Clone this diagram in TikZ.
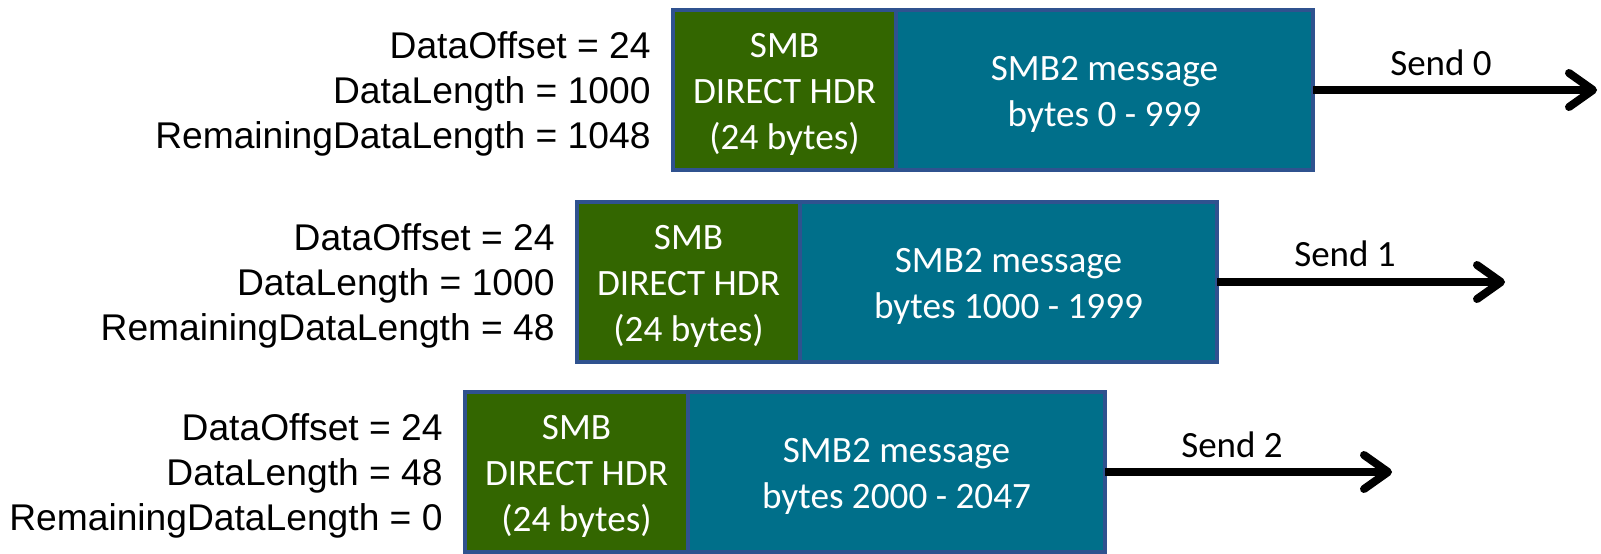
\documentclass[tikz,border=0pt]{standalone}
\usepackage{fontspec}
\setmainfont{Carlito}
\newfontfamily\arialfont{Liberation Sans}
\usetikzlibrary{arrows.meta}
\definecolor{hdrgreen}{RGB}{51,102,0}
\definecolor{msgteal}{RGB}{0,111,138}
\definecolor{edgeblue}{RGB}{47,82,143}
% invisible strut that lowers the first line of a centred block
\newcommand{\topstrut}[1]{\rule{0pt}{#1}}
\begin{document}
\begin{tikzpicture}[x=0.5pt,y=-0.5pt,
  seg/.style={draw=edgeblue, line width=1.75pt, rectangle, minimum height=80pt,
    inner sep=0pt, outer sep=0pt, text=white, align=center,
    font=\fontsize{18.6}{23}\selectfont},
  hdr/.style={seg, fill=hdrgreen, minimum width=111.5pt},
  msg/.style={seg, fill=msgteal, minimum width=208.5pt, anchor=west},
  fields/.style={anchor=east, align=right, inner sep=0pt,
    font=\arialfont\fontsize{18.6}{22.3}\selectfont},
  sendarrow/.style={line width=4pt, -{Straight Barb[length=12pt,width=17pt,round]}},
  sendlabel/.style={font=\fontsize{18.5}{22}\selectfont, inner sep=0pt}
]
\useasboundingbox (0,0) rectangle (1601,553);

% packet 0
\node[hdr] (h0) at (784.5,90) {\topstrut{16pt}SMB\\DIRECT HDR\\(24 bytes)};
\node[msg] (m0) at (h0.east) {\topstrut{16.5pt}SMB2 message\\bytes 0 - 999};
\node[fields] (f0) at ([xshift=-11pt]h0.west) {\topstrut{17.4pt}DataOffset = 24\\DataLength = 1000\\RemainingDataLength = 1048};
\coordinate (e0) at (1597,90);
\draw[sendarrow] (m0.east) -- (e0);
\node[sendlabel] (s0) at (1441,63) {Send 0};

% packet 1
\node[hdr] (h1) at (688.5,282) {\topstrut{16pt}SMB\\DIRECT HDR\\(24 bytes)};
\node[msg] (m1) at (h1.east) {\topstrut{16.5pt}SMB2 message\\bytes 1000 - 1999};
\node[fields] (f1) at ([xshift=-11pt]h1.west) {\topstrut{17.4pt}DataOffset = 24\\DataLength = 1000\\RemainingDataLength = 48};
\coordinate (e1) at (1505,282);
\draw[sendarrow] (m1.east) -- (e1);
\node[sendlabel] (s1) at (1345,254) {Send 1};

% packet 2
\node[hdr] (h2) at (576.5,472) {\topstrut{16pt}SMB\\DIRECT HDR\\(24 bytes)};
\node[msg] (m2) at (h2.east) {\topstrut{16.5pt}SMB2 message\\bytes 2000 - 2047};
\node[fields] (f2) at ([xshift=-11pt]h2.west) {\topstrut{17.4pt}DataOffset = 24\\DataLength = 48\\RemainingDataLength = 0};
\coordinate (e2) at (1392,472);
\draw[sendarrow] (m2.east) -- (e2);
\node[sendlabel] (s2) at (1232,445) {Send 2};
\end{tikzpicture}
\end{document}
